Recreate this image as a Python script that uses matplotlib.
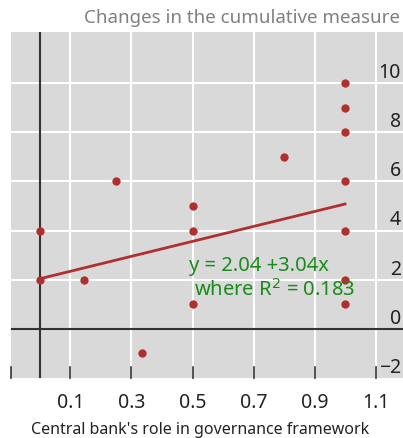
import matplotlib.pyplot as plt
import matplotlib.transforms as mtransforms

plt.rcParams['font.family'] = ['Noto Sans', 'DejaVu Sans']

# central bank role (x) vs change in cumulative measure (y)
role = [0, 0, 0.143, 0.25, 0.333, 0.5, 0.5, 0.5, 0.8, 1, 1, 1, 1, 1, 1, 1]
change = [4, 2, 2, 6, -1, 5, 4, 1, 7, 10, 9, 8, 6, 4, 2, 1]

intercept = 2.04
slope = 3.04
r_squared = 0.183

x_ticks = [0.1, 0.3, 0.5, 0.7, 0.9, 1.1]
y_ticks = [-2, 0, 2, 4, 6, 8, 10]

fig = plt.figure(figsize=(4.03, 4.39), dpi=100)
ax = fig.add_axes([11 / 403, 60 / 439, 392 / 403, 346 / 439])
ax.set_facecolor('#d9d9d9')
ax.set_xlim(-0.095, 1.19)
ax.set_ylim(-2, 12.08)

for xv in x_ticks:
    ax.axvline(xv, color='white', lw=1.5, zorder=1)
for yv in y_ticks[2:]:
    ax.axhline(yv, color='white', lw=1.5, zorder=1)
ax.axvline(0, color='#333333', lw=1.5, zorder=2)
ax.axhline(0, color='#333333', lw=1.5, zorder=2)

for s in ax.spines.values():
    s.set_visible(False)
ax.set_xticks([])
ax.set_yticks([])

# short tick marks along the bottom edge
for xv in [-0.095] + x_ticks:
    ax.plot([xv, xv], [-2, -1.55], color='#333333', lw=1.2, zorder=2, clip_on=False)

ax.scatter(role, change, s=36, color='#b03030', zorder=4, linewidths=0)
ax.plot([0, 1], [intercept, intercept + slope], color='#b03030', lw=2, zorder=3)

ax.text(0.487, 2.38, 'y = %.2f +%.2fx' % (intercept, slope), color='#1a8a1a',
        fontsize=14.5, va='baseline', zorder=5)
ax.text(0.506, 1.37, 'where R$^2$ = %.3f' % r_squared, color='#1a8a1a',
        fontsize=14.5, va='baseline', zorder=5)

# value labels sit on the right, just above each level
trans = mtransforms.blended_transform_factory(ax.transAxes, ax.transData)
for yv in y_ticks:
    lab = '\u22122' if yv < 0 else str(yv)
    ax.text(0.995, yv + 0.25, lab, transform=trans, ha='right', va='baseline',
            fontsize=14, color='#222222')

for xv in x_ticks:
    ax.text(xv, -2.55, '%.1f' % xv, ha='center', va='top', fontsize=14,
            color='#222222')

fig.text(400 / 403, 1 - 18 / 439, 'Changes in the cumulative measure',
         ha='right', va='center', fontsize=13.5, color='#808080')
fig.text(200 / 403, 1 - 430 / 439, "Central bank's role in governance framework",
         ha='center', va='center', fontsize=11.5, color='#222222')

fig.savefig('out.png', dpi=100)
